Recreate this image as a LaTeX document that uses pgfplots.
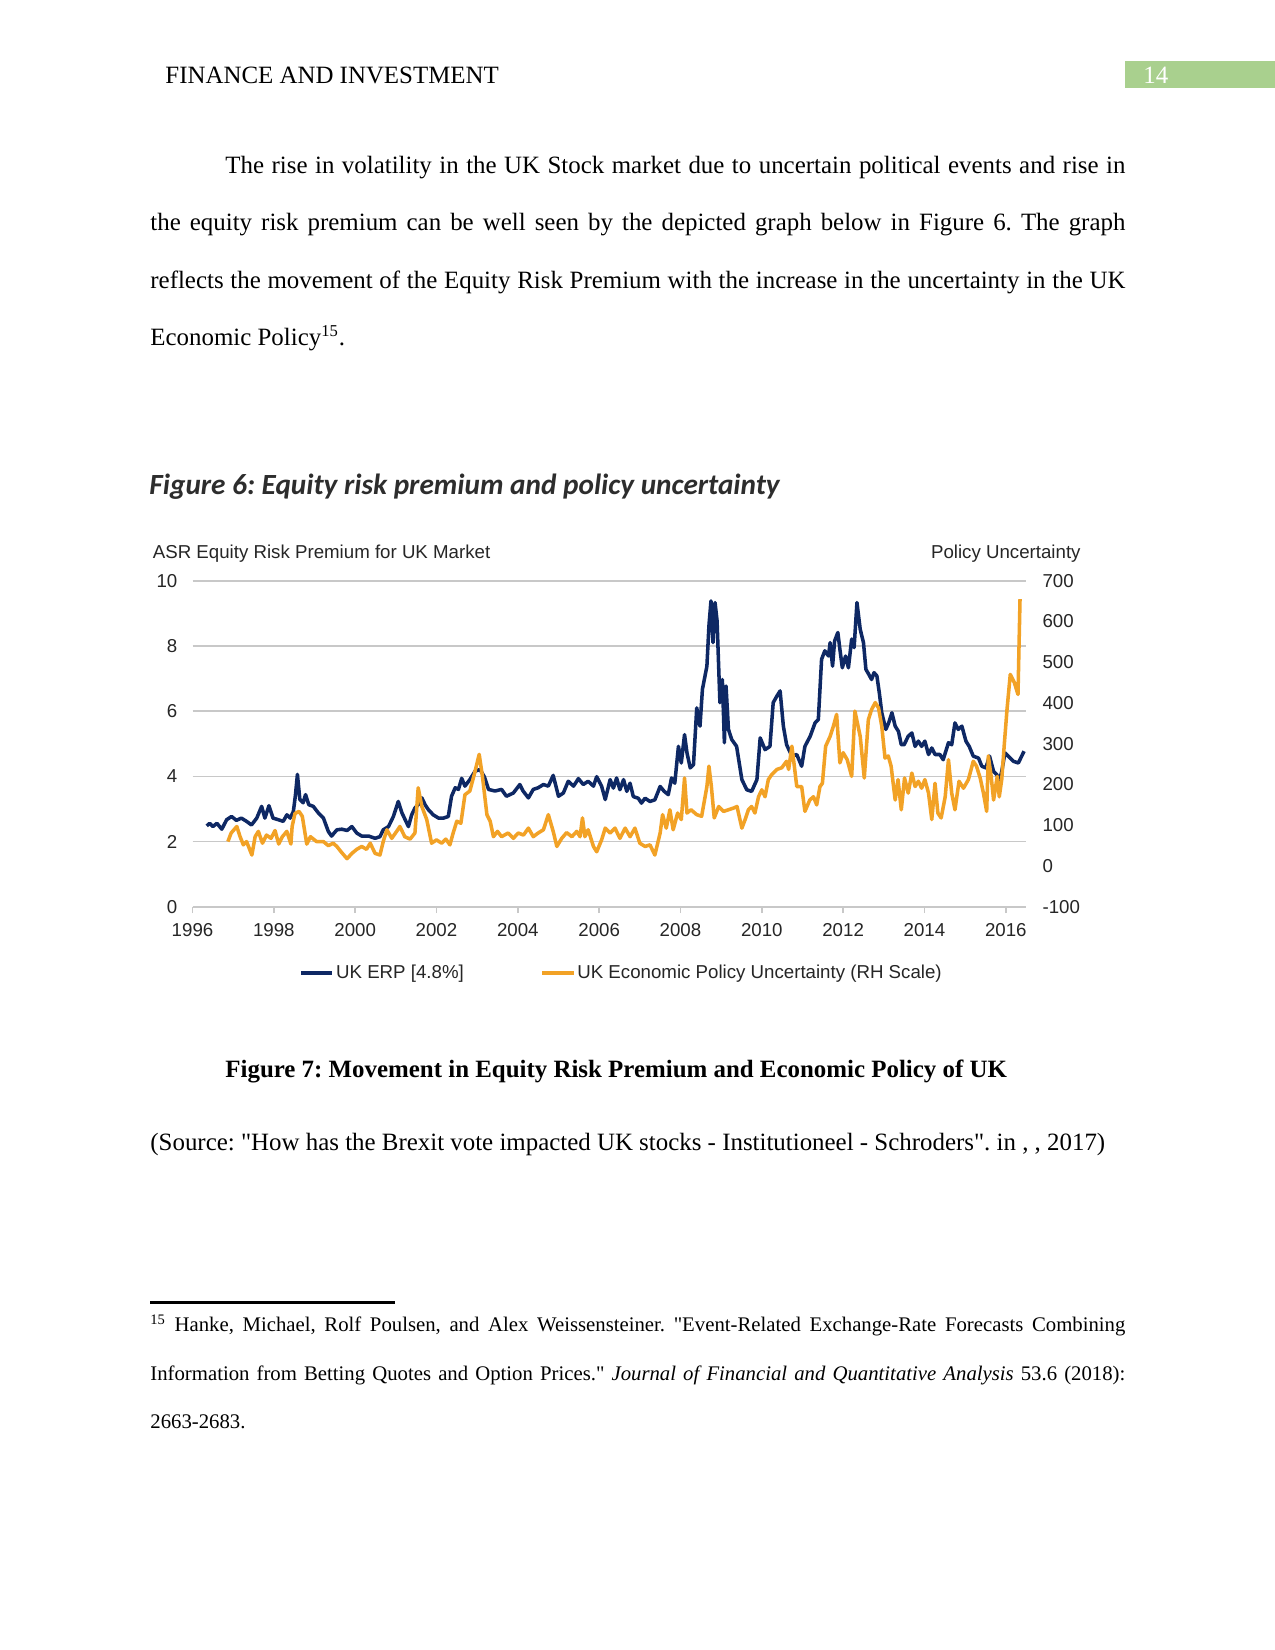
\documentclass[border=0pt]{standalone}
\usepackage{fontspec}
\setmainfont{Liberation Serif}
\setsansfont{Liberation Sans}
\newfontfamily\carlito{Carlito}
\usepackage{pgfplots}
\pgfplotsset{compat=1.18}
\definecolor{erpblue}{RGB}{14,40,100}
\definecolor{epuorange}{RGB}{242,162,38}
\definecolor{gridgray}{RGB}{200,200,200}
\definecolor{hdrgreen}{RGB}{169,208,142}
\definecolor{titlegray}{RGB}{45,45,45}
\frenchspacing
\begin{document}
\begin{tikzpicture}
\begin{scope}[x=0.48181pt,y=-0.48181pt]
\path[fill=white] (0,0) rectangle (1275,1650);
% header
\node[anchor=base west,inner sep=0,font=\fontsize{12}{14}\selectfont] at (165,83) {FINANCE AND INVESTMENT};
\fill[hdrgreen] (1125,61) rectangle (1275,88);
\node[anchor=base west,inner sep=0,font=\fontsize{12}{14}\selectfont,text=white] at (1143,83) {14};
% paragraph
\node[anchor=base west,inner sep=0,font=\fontsize{12}{14}\selectfont] at (225,173) {\makebox[6in][s]{The rise in volatility in the UK Stock market due to uncertain political events and rise in}};
\node[anchor=base west,inner sep=0,font=\fontsize{12}{14}\selectfont] at (150,230.5) {\makebox[6.5in][s]{the equity risk premium can be well seen by the depicted graph below in Figure 6. The graph}};
\node[anchor=base west,inner sep=0,font=\fontsize{12}{14}\selectfont] at (150,288) {\makebox[6.5in][s]{reflects the movement of the Equity Risk Premium with the increase in the uncertainty in the UK}};
\node[anchor=base west,inner sep=0,font=\fontsize{12}{14}\selectfont] at (150,345.5) {Economic Policy\textsuperscript{15}.};
% figure title and axis titles
\node[anchor=base west,inner sep=0,font=\carlito\bfseries\itshape\fontsize{14.1}{16}\selectfont,text=titlegray] at (149,494) {Figure 6: Equity risk premium and policy uncertainty};
\node[anchor=base west,inner sep=0,font=\sffamily\fontsize{9}{10}\selectfont,text=black!85] at (152.5,558) {ASR Equity Risk Premium for UK Market};
\node[anchor=base east,inner sep=0,font=\sffamily\fontsize{9}{10}\selectfont,text=black!85] at (1081,558) {Policy Uncertainty};
% caption and source
\node[anchor=base west,inner sep=0,font=\bfseries\fontsize{12}{14}\selectfont] at (225,1077) {Figure 7: Movement in Equity Risk Premium and Economic Policy of UK};
\node[anchor=base west,inner sep=0,font=\fontsize{12}{14}\selectfont] at (150,1150.5) {(Source: \textquotedbl How has the Brexit vote impacted UK stocks - Institutioneel - Schroders\textquotedbl . in , , 2017)};
% footnote
\draw[line width=1.1pt] (150,1302.5) -- (394.5,1302.5);
\node[anchor=base west,inner sep=0,font=\fontsize{10}{12}\selectfont] at (150,1331.7) {\makebox[6.5in][s]{\textsuperscript{15} Hanke, Michael, Rolf Poulsen, and Alex Weissensteiner. \textquotedbl Event-Related Exchange-Rate Forecasts Combining}};
\node[anchor=base west,inner sep=0,font=\fontsize{10}{12}\selectfont] at (150,1380) {\makebox[6.5in][s]{Information from Betting Quotes and Option Prices.\textquotedbl{} \textit{Journal of Financial and Quantitative Analysis} 53.6 (2018):}};
\node[anchor=base west,inner sep=0,font=\fontsize{10}{12}\selectfont] at (150,1428.5) {2663-2683.};
\end{scope}

\begin{axis}[
  at={(92.75pt,-436.90pt)}, anchor=south west,
  scale only axis, width=401.45pt, height=157.12pt,
  xmin=1996, xmax=2016.49, ymin=0, ymax=10,
  xtick={1996,1998,2000,2002,2004,2006,2008,2010,2012,2014,2016},
  xticklabels={1996,1998,2000,2002,2004,2006,2008,2010,2012,2014,2016},
  ytick={0,2,4,6,8,10},
  yticklabels={0,2,4,6,8,10},
  axis line style={draw=none},
  ymajorgrids, major grid style={gridgray,line width=0.8pt},
  xtick pos=bottom, ytick pos=left, tick align=outside,
  major tick length=3pt,
  xtick style={gridgray,line width=0.7pt},
  ytick style={draw=none},
  tick label style={font=\sffamily\fontsize{9}{10}\selectfont,text=black!85},
  yticklabel style={xshift=-0.8pt},
  xticklabel style={yshift=-1.5pt},
  clip=false,
]
\addplot[erpblue,line width=1.7pt,line join=round] coordinates {
(1996.35,2.48)(1996.42,2.56)(1996.5,2.46)(1996.6,2.56)(1996.72,2.38)(1996.84,2.67)(1996.96,2.77)
(1997.08,2.65)(1997.2,2.72)(1997.33,2.62)(1997.45,2.51)(1997.58,2.72)(1997.7,3.08)(1997.78,2.72)
(1997.88,3.1)(1997.98,2.72)(1998.11,2.67)(1998.23,2.62)(1998.32,2.82)(1998.4,2.72)(1998.48,2.92)
(1998.53,3.41)(1998.58,4.06)(1998.64,3.29)(1998.72,3.19)(1998.78,3.44)(1998.86,3.13)(1998.97,3.08)
(1999.1,2.87)(1999.22,2.72)(1999.34,2.31)(1999.42,2.17)(1999.55,2.36)(1999.67,2.38)(1999.8,2.34)
(1999.92,2.46)(2000.04,2.26)(2000.16,2.17)(2000.33,2.17)(2000.49,2.1)(2000.61,2.15)(2000.69,2.36)
(2000.82,2.46)(2000.94,2.77)(2001.06,3.23)(2001.15,2.88)(2001.23,2.67)(2001.31,2.46)(2001.39,2.82)
(2001.47,3.03)(2001.55,3.13)(2001.64,3.34)(2001.72,3.13)(2001.8,2.98)(2001.92,2.82)(2002.05,2.72)
(2002.17,2.72)(2002.29,2.77)(2002.37,3.39)(2002.46,3.65)(2002.54,3.6)(2002.62,3.94)(2002.7,3.7)
(2002.82,3.9)(2002.95,4.16)(2003.07,4.21)(2003.18,3.98)(2003.28,3.6)(2003.44,3.55)(2003.6,3.6)
(2003.72,3.39)(2003.89,3.49)(2004.05,3.75)(2004.13,3.55)(2004.26,3.34)(2004.38,3.6)(2004.5,3.65)
(2004.63,3.75)(2004.75,3.7)(2004.87,4.03)(2005.0,3.39)(2005.12,3.49)(2005.24,3.85)(2005.37,3.7)
(2005.49,3.93)(2005.61,3.75)(2005.73,3.85)(2005.86,3.7)(2005.94,3.99)(2006.06,3.7)(2006.15,3.29)
(2006.27,3.9)(2006.35,3.64)(2006.43,3.95)(2006.51,3.59)(2006.6,3.9)(2006.68,3.54)(2006.76,3.79)
(2006.84,3.38)(2006.96,3.33)(2007.04,3.18)(2007.13,3.33)(2007.25,3.23)(2007.37,3.28)(2007.5,3.69)
(2007.6,3.54)(2007.7,3.44)(2007.78,3.95)(2007.86,3.79)(2007.95,4.92)(2008.02,4.41)(2008.1,5.28)
(2008.16,4.72)(2008.24,4.26)(2008.32,4.36)(2008.4,6.1)(2008.48,5.54)(2008.54,6.67)(2008.65,7.38)
(2008.7,8.62)(2008.75,9.38)(2008.8,8.1)(2008.85,9.33)(2008.9,8.77)(2008.97,6.26)(2009.03,6.97)
(2009.08,5.03)(2009.12,6.77)(2009.18,5.44)(2009.26,5.13)(2009.38,4.92)(2009.51,3.9)(2009.63,3.59)
(2009.75,3.54)(2009.88,3.9)(2009.96,5.18)(2010.08,4.82)(2010.2,4.92)(2010.28,6.26)(2010.37,6.46)
(2010.45,6.62)(2010.53,5.54)(2010.61,4.97)(2010.74,4.62)(2010.86,4.67)(2010.98,4.31)(2011.06,4.92)
(2011.19,5.23)(2011.31,5.64)(2011.39,5.74)(2011.47,7.59)(2011.55,7.85)(2011.64,7.69)(2011.68,8.1)
(2011.74,7.38)(2011.79,8.15)(2011.87,8.41)(2011.92,7.9)(2011.98,7.33)(2012.06,7.69)(2012.13,7.33)
(2012.21,8.21)(2012.27,7.95)(2012.34,9.33)(2012.42,8.51)(2012.5,8.1)(2012.56,7.28)(2012.63,7.13)
(2012.7,6.97)(2012.76,7.18)(2012.83,7.08)(2012.89,6.56)(2012.95,5.95)(2013.05,5.44)(2013.12,5.64)
(2013.2,5.95)(2013.28,5.54)(2013.36,5.38)(2013.43,4.97)(2013.5,4.97)(2013.6,5.23)(2013.69,5.33)
(2013.77,4.92)(2013.85,5.08)(2013.93,4.92)(2014.01,5.08)(2014.1,4.67)(2014.18,4.87)(2014.26,4.67)
(2014.38,4.67)(2014.46,4.51)(2014.59,5.03)(2014.67,4.97)(2014.75,5.64)(2014.83,5.44)(2014.92,5.54)
(2015.02,5.08)(2015.1,4.92)(2015.2,4.62)(2015.33,4.56)(2015.41,4.31)(2015.51,4.26)(2015.6,4.62)
(2015.7,4.15)(2015.78,4.05)(2015.84,3.85)(2015.9,4.15)(2015.98,4.72)(2016.06,4.62)(2016.19,4.46)
(2016.31,4.41)(2016.39,4.62)(2016.45,4.77)
};
\end{axis}

\begin{axis}[
  at={(92.75pt,-436.90pt)}, anchor=south west,
  scale only axis, width=401.45pt, height=157.12pt,
  xmin=1996, xmax=2016.49, ymin=-100, ymax=700,
  hide x axis,
  ytick={-100,0,100,200,300,400,500,600,700},
  yticklabels={-100,0,100,200,300,400,500,600,700},
  axis line style={draw=none},
  ytick pos=right, yticklabel pos=right,
  ytick style={draw=none},
  tick label style={font=\sffamily\fontsize{9}{10}\selectfont,text=black!85},
  yticklabel style={xshift=4.6pt},
  clip=false,
  legend columns=2,
  legend style={at={(0.515,-0.203)},anchor=center,draw=none,fill=none,
    font=\sffamily\fontsize{9}{10}\selectfont,text=black!85,
    nodes={inner sep=1pt},
    /tikz/every even column/.append style={column sep=36pt}},
  legend image code/.code={\draw[#1] (0pt,0pt) -- (15pt,0pt);},
]
\addlegendimage{erpblue,line width=1.7pt}
\addlegendentry{UK ERP [4.8\%]}
\addplot[epuorange,line width=1.7pt,line join=round] coordinates {
(1996.87,60)(1996.95,81)(1997.09,97)(1997.17,72)(1997.25,52)(1997.33,60)(1997.46,27)(1997.54,72)
(1997.62,85)(1997.72,56)(1997.82,76)(1997.93,68)(1998.03,87)(1998.12,54)(1998.21,72)(1998.32,85)
(1998.42,54)(1998.45,97)(1998.52,129)(1998.62,134)(1998.7,122)(1998.81,54)(1998.9,72)(1999.05,60)
(1999.22,60)(1999.34,50)(1999.46,56)(1999.55,48)(1999.67,33)(1999.8,18)(1999.92,31)(2000.04,41)
(2000.16,48)(2000.28,41)(2000.37,56)(2000.49,31)(2000.61,27)(2000.69,60)(2000.78,89)(2000.9,68)
(2001.02,85)(2001.1,97)(2001.22,72)(2001.35,66)(2001.47,81)(2001.55,192)(2001.64,146)(2001.76,114)
(2001.88,56)(2002.0,64)(2002.13,56)(2002.23,66)(2002.33,52)(2002.41,81)(2002.5,110)(2002.6,105)
(2002.7,175)(2002.82,184)(2002.93,225)(2003.05,274)(2003.13,220)(2003.24,126)(2003.32,110)(2003.4,72)
(2003.5,85)(2003.6,72)(2003.76,81)(2003.89,68)(2004.01,81)(2004.14,76)(2004.26,93)(2004.38,72)
(2004.5,81)(2004.63,89)(2004.75,126)(2004.87,85)(2004.96,48)(2005.08,68)(2005.2,82)(2005.33,72)
(2005.45,85)(2005.53,72)(2005.59,118)(2005.65,72)(2005.73,89)(2005.86,48)(2005.94,35)(2006.06,64)
(2006.15,93)(2006.27,81)(2006.39,93)(2006.51,68)(2006.64,93)(2006.76,72)(2006.88,93)(2007.0,56)
(2007.13,48)(2007.25,52)(2007.37,27)(2007.5,81)(2007.56,126)(2007.65,93)(2007.74,138)(2007.82,89)
(2007.93,130)(2008.02,114)(2008.1,216)(2008.16,130)(2008.26,138)(2008.4,126)(2008.52,122)(2008.65,195)
(2008.7,245)(2008.76,195)(2008.83,118)(2008.94,146)(2009.06,134)(2009.18,138)(2009.3,142)(2009.39,146)
(2009.51,93)(2009.59,114)(2009.67,138)(2009.75,146)(2009.83,130)(2009.92,170)(2010.0,187)(2010.08,170)
(2010.16,212)(2010.24,224)(2010.37,237)(2010.49,241)(2010.61,257)(2010.66,237)(2010.74,294)(2010.8,245)
(2010.86,195)(2010.98,195)(2011.06,134)(2011.18,162)(2011.27,170)(2011.35,150)(2011.43,195)(2011.49,203)
(2011.57,294)(2011.68,318)(2011.76,343)(2011.84,372)(2011.92,253)(2012.0,278)(2012.1,261)(2012.21,220)
(2012.29,380)(2012.42,318)(2012.52,216)(2012.62,359)(2012.7,384)(2012.79,401)(2012.87,388)(2012.95,343)
(2013.03,265)(2013.11,270)(2013.18,245)(2013.28,162)(2013.35,212)(2013.43,138)(2013.51,216)(2013.6,179)
(2013.69,228)(2013.77,195)(2013.85,208)(2013.93,191)(2014.01,212)(2014.1,179)(2014.18,114)(2014.26,203)
(2014.33,130)(2014.41,118)(2014.51,170)(2014.59,261)(2014.67,179)(2014.75,138)(2014.85,208)(2014.96,191)
(2015.08,212)(2015.2,257)(2015.28,245)(2015.37,216)(2015.45,179)(2015.53,134)(2015.57,270)(2015.64,220)
(2015.7,162)(2015.79,220)(2015.84,170)(2015.9,212)(2015.96,294)(2016.03,384)(2016.11,470)(2016.21,450)
(2016.3,421)(2016.35,655)
};
\addlegendentry{UK Economic Policy Uncertainty (RH Scale)}
\end{axis}
\end{tikzpicture}
\end{document}
